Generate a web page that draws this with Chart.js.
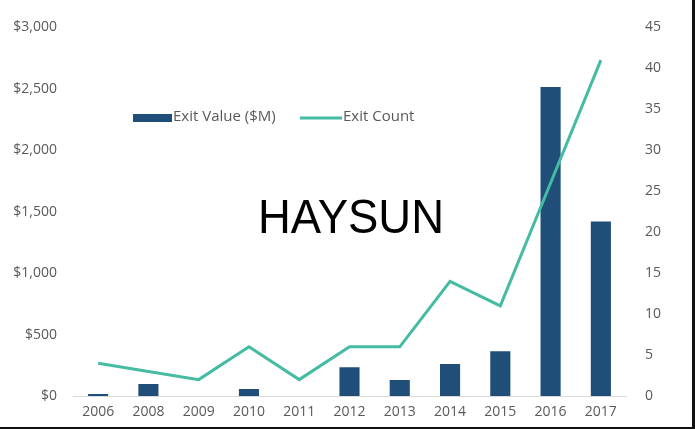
<!DOCTYPE html>
<html>
<head>
<meta charset="utf-8">
<script src="https://cdn.jsdelivr.net/npm/chart.js@4.4.0/dist/chart.umd.min.js"></script>
<style>
  html, body { margin: 0; padding: 0; background: #fff; }
  #wrap { position: relative; width: 695px; height: 429px; }
  #edgeR { position: absolute; right: 0; top: 0; width: 3px; height: 429px; background: #111; }
  #edgeB { position: absolute; left: 0; bottom: 0; width: 695px; height: 2px; background: #111; }
</style>
</head>
<body>
<div id="wrap">
  <canvas id="c" width="695" height="429"></canvas>
  <div id="edgeR"></div>
  <div id="edgeB"></div>
</div>
<script>
const categories = ['2006','2008','2009','2010','2011','2012','2013','2014','2015','2016','2017'];
const exitValue = [16, 97, 0, 57, 0, 235, 130, 260, 365, 2515, 1420];
const exitCount = [4, 3, 2, 6, 2, 6, 6, 14, 11, 26, 41];
const leftTicks = [0, 500, 1000, 1500, 2000, 2500, 3000];
const rightTicks = [0, 5, 10, 15, 20, 25, 30, 35, 40, 45];
const watermark = 'HAYSUN';

const TEXT = '#595959';
const BAR = '#1f4e79';
const LINE = '#45bba3';
const FONT = "'Open Sans', sans-serif";

const legendPlugin = {
  id: 'insideLegend',
  afterDraw(chart) {
    const ctx = chart.ctx;
    const ds = chart.data.datasets;
    const barDs = ds.find(d => d.type === 'bar');
    const lineDs = ds.find(d => d.type === 'line');
    ctx.save();
    ctx.font = '15px ' + FONT;
    ctx.textBaseline = 'middle';
    // bar swatch
    ctx.fillStyle = barDs.backgroundColor;
    ctx.fillRect(133, 114, 39, 8);
    ctx.fillStyle = TEXT;
    ctx.fillText(barDs.label, 173, 117);
    // line swatch
    ctx.strokeStyle = lineDs.borderColor;
    ctx.lineWidth = 3;
    ctx.beginPath();
    ctx.moveTo(300, 118);
    ctx.lineTo(342, 118);
    ctx.stroke();
    ctx.fillText(lineDs.label, 343, 117);
    // watermark
    ctx.font = '49px "Liberation Sans", Arial, sans-serif';
    ctx.fillStyle = '#000';
    ctx.textBaseline = 'alphabetic';
    const w = ctx.measureText(watermark).width;
    ctx.translate(258, 233);
    ctx.scale(186 / w, 1);
    ctx.fillText(watermark, 0, 0);
    ctx.restore();
  }
};

new Chart(document.getElementById('c'), {
  data: {
    labels: categories,
    datasets: [
      {
        type: 'line',
        label: 'Exit Count',
        data: exitCount,
        yAxisID: 'yR',
        borderColor: LINE,
        backgroundColor: LINE,
        borderWidth: 3,
        pointRadius: 0,
        tension: 0,
        order: 0
      },
      {
        type: 'bar',
        label: 'Exit Value ($M)',
        data: exitValue,
        yAxisID: 'yL',
        backgroundColor: BAR,
        categoryPercentage: 1,
        barPercentage: 0.4,
        order: 1
      }
    ]
  },
  options: {
    responsive: false,
    animation: false,
    events: [],
    layout: { padding: { top: 25, left: 0, right: 0, bottom: 0 } },
    plugins: {
      legend: { display: false },
      tooltip: { enabled: false }
    },
    scales: {
      x: {
        grid: { display: false, drawTicks: false },
        border: { display: true, color: '#d9d9d9', width: 1 },
        ticks: { color: TEXT, font: { family: FONT, size: 14 }, padding: 8, maxRotation: 0, autoSkip: false },
        afterFit(s) { s.height = 33; }
      },
      yL: {
        position: 'left',
        min: 0, max: 3000,
        grid: { display: false, drawTicks: false },
        border: { display: false },
        afterBuildTicks(s) { s.ticks = leftTicks.map(v => ({ value: v })); },
        ticks: {
          color: TEXT, font: { family: FONT, size: 14 }, padding: 16,
          callback: v => '$' + v.toLocaleString('en-US')
        },
        afterFit(s) { s.width = 73; }
      },
      yR: {
        position: 'right',
        min: 0, max: 45,
        grid: { display: false, drawTicks: false },
        border: { display: false },
        afterBuildTicks(s) { s.ticks = rightTicks.map(v => ({ value: v })); },
        ticks: { color: TEXT, font: { family: FONT, size: 14 }, padding: 19 },
        afterFit(s) { s.width = 69; }
      }
    }
  },
  plugins: [legendPlugin]
});
</script>
</body>
</html>
